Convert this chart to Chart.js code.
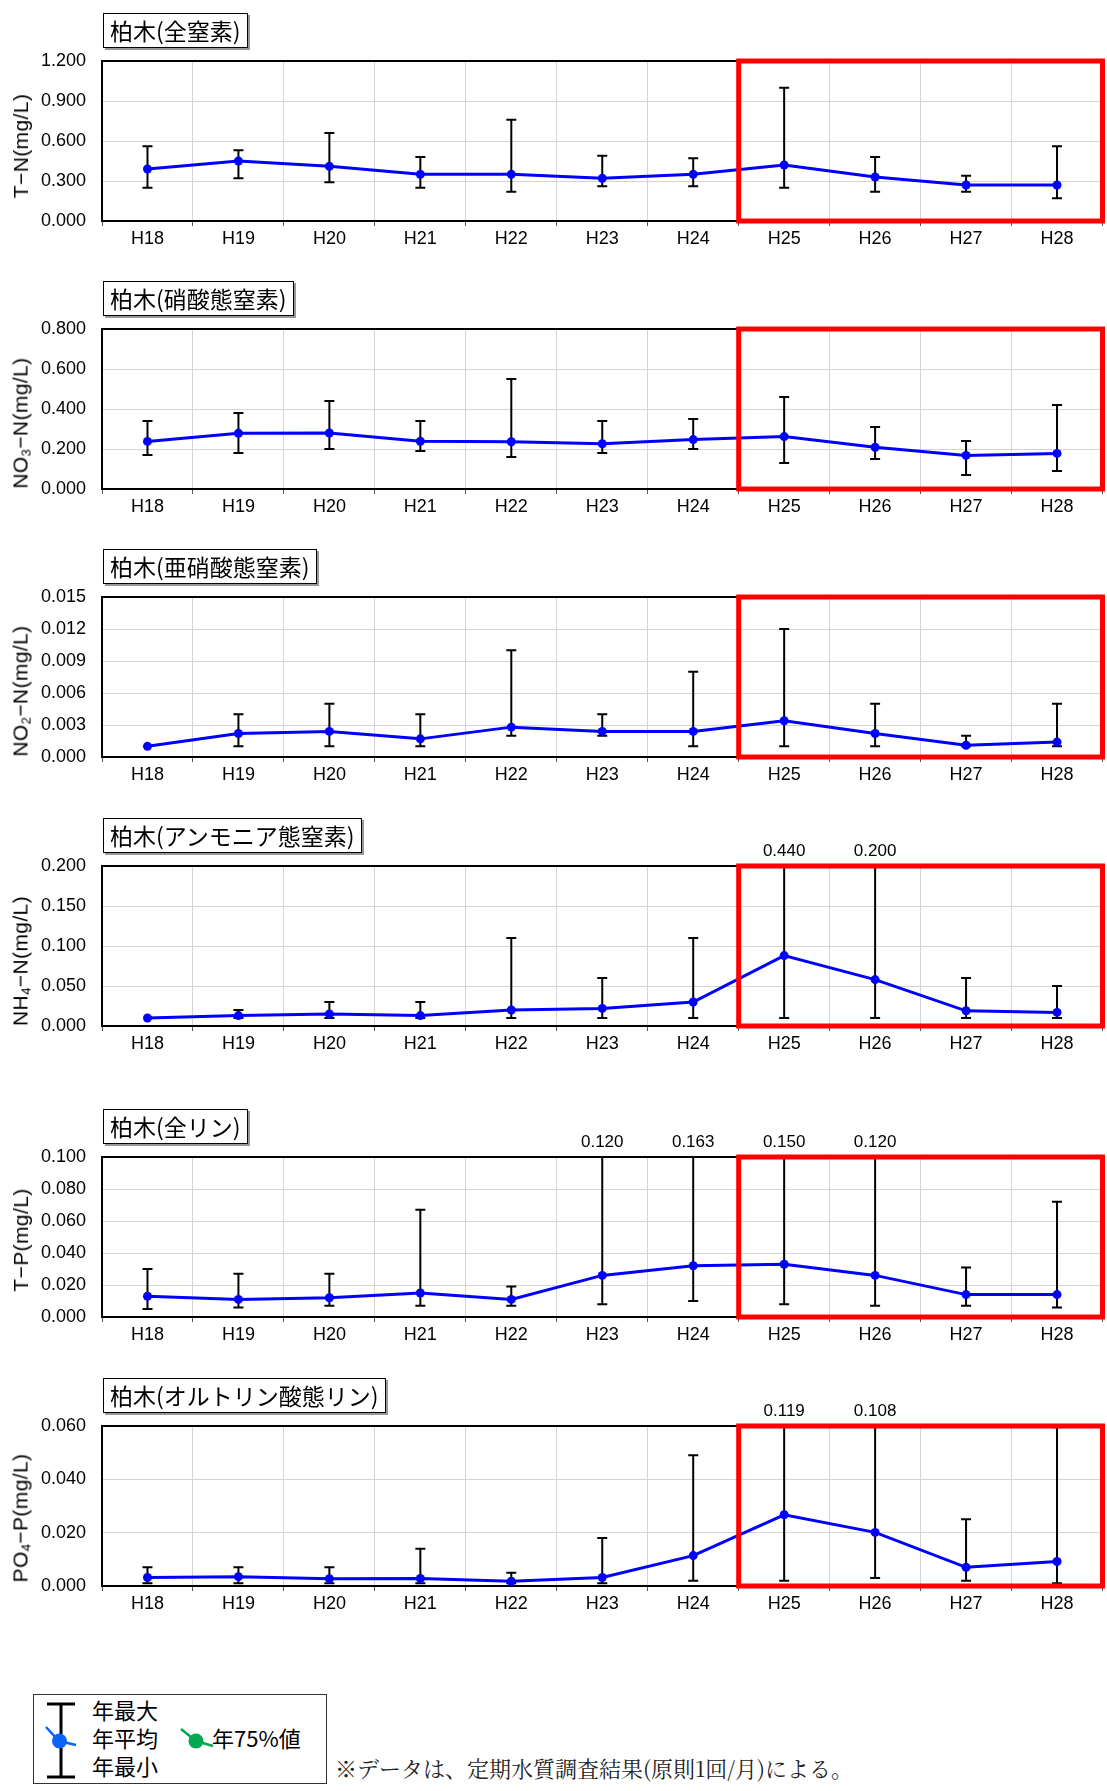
<!DOCTYPE html>
<html lang="ja">
<head>
<meta charset="utf-8">
<title>柏木 水質経年変化</title>
<script src="https://cdn.jsdelivr.net/npm/chart.js@4.4.1/dist/chart.umd.min.js"></script>
<style>
  html, body { margin: 0; padding: 0; background: #fff; }
  #page { position: relative; width: 1107px; height: 1791px; overflow: hidden; font-family: "Noto Sans CJK JP", sans-serif; color: #000; }
  .panel { position: absolute; left: 0; width: 1107px; }
  .panel canvas { display: block; }
  .ttl { position: absolute; left: 103px; height: 33px; line-height: 33px; padding: 0 6px; font-size: 23px;
         border: 1px solid #000; background: #fff; box-shadow: 2px 2px 0 #999; white-space: nowrap; }
  .ytitle { position: absolute; left: 21px; white-space: nowrap; font-family: "Liberation Sans", Arial, sans-serif;
            font-size: 21px; letter-spacing: 0.4px; transform: translate(-50%, -50%) rotate(-90deg); }
  .ytitle sub { font-size: 13px; vertical-align: -3px; }
  #legend { position: absolute; left: 33px; top: 1694px; width: 292px; height: 88px; border: 1px solid #333; background: #fff; }
  #legend svg { position: absolute; left: 0; top: 0; }
  .lg { position: absolute; font-size: 22px; line-height: 22px; white-space: nowrap; }
  #note { position: absolute; left: 335px; top: 1755px; font-size: 22px; line-height: 26px; white-space: nowrap;
          font-family: "Noto Serif CJK JP", "Noto Sans CJK JP", serif; color: #222; }
</style>
</head>
<body>
<div id="page">
  <div id="legend">
    <svg width="292" height="88" viewBox="33 1694 292 88">
      <g stroke="#000" stroke-width="3" fill="none">
        <line x1="60" y1="1703" x2="60" y2="1776"/>
        <line x1="46" y1="1703" x2="74" y2="1703"/>
        <line x1="46" y1="1776" x2="74" y2="1776"/>
      </g>
      <polyline points="45,1726 58,1740 75,1744" stroke="#0a62ff" stroke-width="2.5" fill="none"/>
      <circle cx="58.5" cy="1740" r="7.5" fill="#0a62ff"/>
      <polyline points="180,1728 195,1740 212,1745" stroke="#00a850" stroke-width="2.5" fill="none"/>
      <circle cx="195" cy="1740" r="7.5" fill="#00a850"/>
    </svg>
    <div class="lg" style="left:58px; top:3px;">年最大</div>
    <div class="lg" style="left:58px; top:31px;">年平均</div>
    <div class="lg" style="left:58px; top:59px;">年最小</div>
    <div class="lg" style="left:178px; top:31px;">年75%値</div>
  </div>
  <div id="note">※データは、定期水質調査結果(原則1回/月)による。</div>
</div>
<script>
// 年度
const years = ['H18', 'H19', 'H20', 'H21', 'H22', 'H23', 'H24', 'H25', 'H26', 'H27', 'H28'];
// 赤枠で囲む最初の年度
const highlightFrom = 'H25';

// 全窒素 T-N
const tnMean = [0.39, 0.45, 0.41, 0.35, 0.35, 0.32, 0.35, 0.42, 0.33, 0.27, 0.27];
const tnMax  = [0.56, 0.53, 0.66, 0.48, 0.76, 0.49, 0.47, 1.00, 0.48, 0.34, 0.56];
const tnMin  = [0.25, 0.32, 0.29, 0.25, 0.22, 0.26, 0.26, 0.25, 0.22, 0.22, 0.17];

// 硝酸態窒素 NO3-N
const no3Mean = [0.238, 0.279, 0.280, 0.239, 0.236, 0.226, 0.247, 0.262, 0.209, 0.168, 0.178];
const no3Max  = [0.34, 0.38, 0.44, 0.34, 0.55, 0.34, 0.35, 0.46, 0.31, 0.24, 0.42];
const no3Min  = [0.17, 0.18, 0.20, 0.19, 0.16, 0.18, 0.20, 0.13, 0.15, 0.07, 0.09];

// 亜硝酸態窒素 NO2-N
const no2Mean = [0.0010, 0.0022, 0.0024, 0.0017, 0.0028, 0.0024, 0.0024, 0.0034, 0.0022, 0.0011, 0.0014];
const no2Max  = [0.001, 0.004, 0.005, 0.004, 0.010, 0.004, 0.008, 0.012, 0.005, 0.002, 0.005];
const no2Min  = [0.001, 0.001, 0.001, 0.001, 0.002, 0.002, 0.001, 0.001, 0.001, 0.001, 0.001];

// アンモニア態窒素 NH4-N
const nh4Mean = [0.010, 0.013, 0.015, 0.013, 0.020, 0.022, 0.030, 0.088, 0.058, 0.019, 0.017];
const nh4Max  = [0.010, 0.020, 0.030, 0.030, 0.110, 0.060, 0.110, 0.440, 0.200, 0.060, 0.050];
const nh4Min  = [0.010, 0.010, 0.010, 0.010, 0.010, 0.010, 0.010, 0.010, 0.010, 0.010, 0.010];

// 全リン T-P
const tpMean = [0.013, 0.011, 0.012, 0.015, 0.011, 0.026, 0.032, 0.033, 0.026, 0.014, 0.014];
const tpMax  = [0.030, 0.027, 0.027, 0.067, 0.019, 0.120, 0.163, 0.150, 0.120, 0.031, 0.072];
const tpMin  = [0.005, 0.006, 0.007, 0.007, 0.007, 0.008, 0.010, 0.008, 0.007, 0.007, 0.006];

// オルトリン酸態リン PO4-P
const po4Mean = [0.0032, 0.0035, 0.0027, 0.0028, 0.0018, 0.0032, 0.0114, 0.0267, 0.0201, 0.0070, 0.0092];
const po4Max  = [0.007, 0.007, 0.007, 0.014, 0.005, 0.018, 0.049, 0.119, 0.108, 0.025, 0.0595];
const po4Min  = [0.001, 0.001, 0.001, 0.001, 0.001, 0.001, 0.002, 0.002, 0.003, 0.002, 0.001];

const panels = [
  { title: '柏木(全窒素)', unit: 'T−N(mg/L)', mean: tnMean, max: tnMax, min: tnMin, yMax: 1.2, step: 0.3 },
  { title: '柏木(硝酸態窒素)', unit: 'NO<sub>3</sub>−N(mg/L)', mean: no3Mean, max: no3Max, min: no3Min, yMax: 0.8, step: 0.2 },
  { title: '柏木(亜硝酸態窒素)', unit: 'NO<sub>2</sub>−N(mg/L)', mean: no2Mean, max: no2Max, min: no2Min, yMax: 0.015, step: 0.003 },
  { title: '柏木(アンモニア態窒素)', unit: 'NH<sub>4</sub>−N(mg/L)', mean: nh4Mean, max: nh4Max, min: nh4Min, yMax: 0.2, step: 0.05 },
  { title: '柏木(全リン)', unit: 'T−P(mg/L)', mean: tpMean, max: tpMax, min: tpMin, yMax: 0.1, step: 0.02 },
  { title: '柏木(オルトリン酸態リン)', unit: 'PO<sub>4</sub>−P(mg/L)', mean: po4Mean, max: po4Max, min: po4Min, yMax: 0.06, step: 0.02 }
];

// 各グラフの配置 (プロット上端, 縦軸タイトルのずれ)
const layout = [
  { plotTop: 61, unitShift: 5 },
  { plotTop: 329, unitShift: 14 },
  { plotTop: 597, unitShift: 14 },
  { plotTop: 866, unitShift: 15 },
  { plotTop: 1157, unitShift: 3 },
  { plotTop: 1426, unitShift: 12 }
];

const PAD_TOP = 40, PLOT_H = 160, AXIS_H = 36, Y_W = 102;
const numFont = { family: '"Liberation Sans", Arial, sans-serif', size: 18 };

function makeDeco(p) {
  return {
    id: 'deco',
    beforeDatasetsDraw(chart) {
      const { ctx, chartArea: a, scales: { x, y } } = chart;
      ctx.save();
      // 枠
      ctx.strokeStyle = '#000';
      ctx.lineWidth = 2;
      ctx.strokeRect(a.left, a.top, a.right - a.left, a.bottom - a.top);
      // 最大・最小
      ctx.lineWidth = 2;
      p.max.forEach((hi, i) => {
        const lo = p.min[i];
        if (hi <= lo) return;
        const px = x.getPixelForValue(i);
        const top = y.getPixelForValue(Math.min(hi, y.max));
        const bot = y.getPixelForValue(lo);
        ctx.beginPath();
        ctx.moveTo(px, top);
        ctx.lineTo(px, bot);
        if (hi < y.max) {
          ctx.moveTo(px - 5, top);
          ctx.lineTo(px + 5, top);
        }
        ctx.moveTo(px - 5, bot);
        ctx.lineTo(px + 5, bot);
        ctx.stroke();
      });
      ctx.restore();
    },
    afterDatasetsDraw(chart) {
      const { ctx, chartArea: a, scales: { x, y } } = chart;
      ctx.save();
      // 上限を超える値
      ctx.fillStyle = '#000';
      ctx.font = '17px "Liberation Sans", Arial, sans-serif';
      ctx.textAlign = 'center';
      ctx.textBaseline = 'middle';
      p.max.forEach((hi, i) => {
        if (hi >= y.max) ctx.fillText(hi.toFixed(3), x.getPixelForValue(i), a.top - 15);
      });
      // 赤枠
      const k = years.indexOf(highlightFrom);
      const x0 = (x.getPixelForValue(k - 1) + x.getPixelForValue(k)) / 2;
      ctx.strokeStyle = '#ff0000';
      ctx.lineWidth = 5;
      ctx.strokeRect(x0, a.top, a.right - x0, a.bottom - a.top);
      ctx.restore();
    }
  };
}

const page = document.getElementById('page');

panels.forEach((p, n) => {
  const L = layout[n];
  const wrap = document.createElement('div');
  wrap.className = 'panel';
  wrap.style.top = (L.plotTop - PAD_TOP) + 'px';
  const cv = document.createElement('canvas');
  cv.width = 1107;
  cv.height = PAD_TOP + PLOT_H + AXIS_H;
  cv.style.width = '1107px';
  cv.style.height = cv.height + 'px';
  wrap.appendChild(cv);
  page.appendChild(wrap);

  const ttl = document.createElement('div');
  ttl.className = 'ttl';
  ttl.style.top = (L.plotTop - 48) + 'px';
  ttl.textContent = p.title;
  page.appendChild(ttl);

  const yt = document.createElement('div');
  yt.className = 'ytitle';
  yt.style.top = (L.plotTop + PLOT_H / 2 + L.unitShift) + 'px';
  yt.innerHTML = p.unit;
  page.appendChild(yt);

  new Chart(cv, {
    type: 'line',
    data: {
      labels: years,
      datasets: [{
        data: p.mean,
        borderColor: '#0000ff',
        borderWidth: 3,
        pointRadius: 4.5,
        pointBackgroundColor: '#0000ff',
        pointBorderWidth: 0,
        tension: 0
      }]
    },
    options: {
      responsive: false,
      animation: false,
      devicePixelRatio: 1,
      layout: { padding: { top: PAD_TOP, right: 1, left: 0, bottom: 0 } },
      plugins: { legend: { display: false }, tooltip: { enabled: false } },
      scales: {
        x: {
          offset: true,
          grid: { offset: true, color: '#d4d4d4', tickLength: 5, tickColor: '#555' },
          border: { display: false },
          ticks: { color: '#000', font: numFont, padding: 2, maxRotation: 0, autoSkip: false },
          afterFit(s) { s.height = AXIS_H; }
        },
        y: {
          min: 0,
          max: p.yMax,
          grid: { color: '#d4d4d4', drawTicks: false },
          border: { display: false },
          ticks: { stepSize: p.step, color: '#000', font: numFont, padding: 16, callback: v => v.toFixed(3) },
          afterFit(s) { s.width = Y_W; }
        }
      }
    },
    plugins: [makeDeco(p)]
  });
});
</script>
</body>
</html>
